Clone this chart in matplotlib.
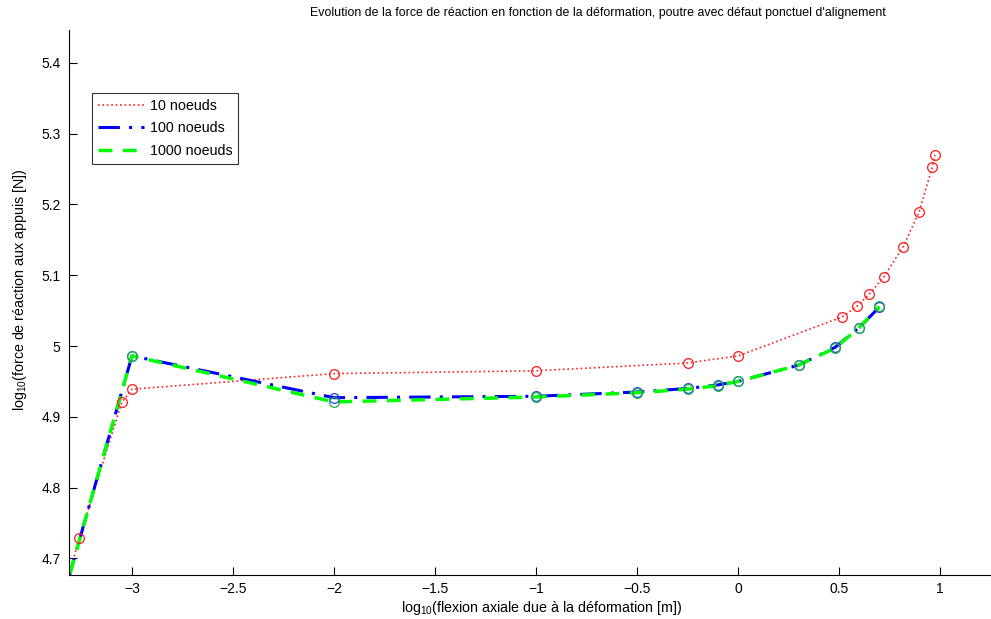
import matplotlib
matplotlib.use("Agg")
import matplotlib.pyplot as plt

plt.rcParams['font.family'] = ['Liberation Sans', 'DejaVu Sans']
plt.rcParams['mathtext.fontset'] = 'custom'
plt.rcParams['mathtext.rm'] = 'Liberation Sans'
plt.rcParams['mathtext.it'] = 'Liberation Sans'

# 10 noeuds
x10 = [-3.40, -3.26, -3.05, -3.00, -2.00, -1.00, -0.25, 0.00, 0.516, 0.588, 0.649, 0.723, 0.817, 0.896, 0.962, 0.975]
y10 = [4.590, 4.729, 4.921, 4.939, 4.961, 4.965, 4.976, 4.986, 5.041, 5.056, 5.073, 5.098, 5.140, 5.189, 5.253, 5.270]
# 100 noeuds
x100 = [-3.40, -3.00, -2.00, -1.00, -0.50, -0.25, -0.10, 0.00, 0.30, 0.48, 0.60, 0.70]
y100 = [4.586, 4.986, 4.927, 4.929, 4.935, 4.940, 4.945, 4.950, 4.973, 4.998, 5.026, 5.055]
# 1000 noeuds
x1000 = [-3.40, -3.00, -2.00, -1.00, -0.50, -0.25, -0.10, 0.00, 0.30, 0.48, 0.60, 0.70]
y1000 = [4.586, 4.986, 4.921, 4.928, 4.934, 4.939, 4.944, 4.950, 4.973, 4.997, 5.026, 5.056]

xticks = [-3, -2.5, -2, -1.5, -1, -0.5, 0, 0.5, 1]
xticklabels = ['\u22123', '\u22122.5', '\u22122', '\u22121.5', '\u22121', '\u22120.5', '0', '0.5', '1']
yticks = [4.7, 4.8, 4.9, 5.0, 5.1, 5.2, 5.3, 5.4]
yticklabels = ['4.7', '4.8', '4.9', '5', '5.1', '5.2', '5.3', '5.4']

W, H = 991, 619
fig = plt.figure(figsize=(W / 100, H / 100), dpi=100)
left, right, bottom, top = 69, 1040, 575, 30
ax = fig.add_axes([left / W, (H - bottom) / H, (right - left) / W, (bottom - top) / H])

ax.plot(x10, y10, color='#ff2020', linestyle=':', linewidth=1.2, label='10 noeuds')
ax.plot(x100, y100, color='#0000ff', linestyle='-.', linewidth=2.2, dashes=(7, 3, 1, 3), label='100 noeuds')
ax.plot(x1000, y1000, color='#00ff00', linestyle='--', linewidth=2.5, dashes=(4, 3), label='1000 noeuds')

ms = 7
ax.plot(x10[1:], y10[1:], linestyle='none', marker='o', markersize=ms, markerfacecolor='none',
        markeredgecolor='#ff1a1a', markeredgewidth=0.9)
ax.plot(x100[1:], y100[1:], linestyle='none', marker='o', markersize=ms, markerfacecolor='none',
        markeredgecolor='#2040ff', markeredgewidth=0.9)
ax.plot(x1000[1:], y1000[1:], linestyle='none', marker='o', markersize=ms, markerfacecolor='none',
        markeredgecolor='#20b040', markeredgewidth=0.9)

x0 = -3.0 - (132 - left) / 202.0
x1 = x0 + (right - left) / 202.0
ax.set_xlim(x0, x1)
y0 = 5.0 - (bottom - 346) / 708.0
y1 = 5.0 + (346 - top) / 708.0
ax.set_ylim(y0, y1)

ax.set_xticks(xticks)
ax.set_xticklabels(xticklabels)
ax.set_yticks(yticks)
ax.set_yticklabels(yticklabels)
ax.tick_params(direction='in', length=6, width=0.8, labelsize=10)
ax.tick_params(axis='x', pad=5)
ax.tick_params(axis='y', pad=6)
ax.spines['top'].set_visible(False)
ax.spines['right'].set_visible(False)
for s in ('left', 'bottom'):
    ax.spines[s].set_linewidth(0.8)

leg = ax.legend(loc='upper left', bbox_to_anchor=((92 - left) / (right - left), (bottom - 93) / (bottom - top)),
                fontsize=10.3, frameon=True, fancybox=False, edgecolor='black', handlelength=3.2,
                borderpad=0.4, labelspacing=0.6, handletextpad=0.45, borderaxespad=0)
leg.get_frame().set_linewidth(0.8)

fig.text(598 / W, 1 - 13 / H, "Evolution de la force de réaction en fonction de la déformation, poutre avec défaut ponctuel d'alignement",
         ha='center', va='center', fontsize=8.9)
fig.text(542 / W, 1 - 617 / H, r"log$_{10}$(flexion axiale due à la déformation [m])",
         ha='center', va='bottom', fontsize=10.3)
fig.text(20 / W, 1 - 290 / H, r"log$_{10}$(force de réaction aux appuis [N])",
         ha='center', va='center', fontsize=10.3, rotation=90)

fig.savefig('out.png', dpi=100)
